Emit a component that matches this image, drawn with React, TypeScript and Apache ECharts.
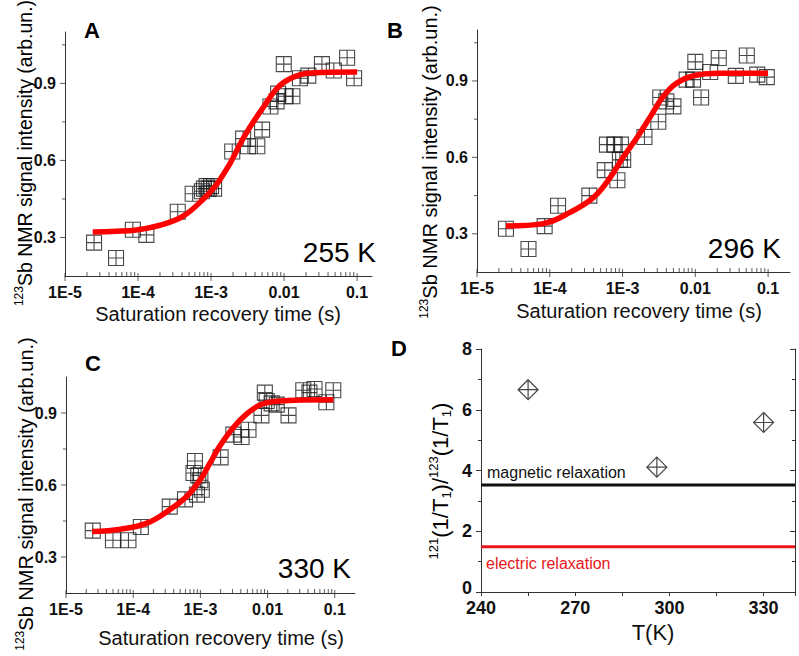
import React, { useEffect, useRef } from 'react';
import * as echarts from 'echarts';

const FONT = '"Liberation Sans", Arial, Helvetica, sans-serif';

// ---- Panel A (255 K) ----
const timeA = [2.5e-5, 5.0e-5, 8.5e-5, 1.3e-4, 3.5e-4, 5.6e-4, 7.5e-4, 8.0e-4, 8.7e-4, 9.3e-4, 1.0e-3, 1.1e-3, 1.95e-3, 2.75e-3, 3.2e-3, 4.3e-3, 5.0e-3, 6.5e-3, 7.9e-3, 8.3e-3, 9.9e-3, 1.05e-2, 1.3e-2, 1.65e-2, 2.15e-2, 3.3e-2, 4.8e-2, 7.3e-2, 9.1e-2];
const signalA = [0.28, 0.22, 0.33, 0.31, 0.40, 0.47, 0.48, 0.49, 0.50, 0.49, 0.50, 0.49, 0.635, 0.685, 0.655, 0.655, 0.72, 0.81, 0.83, 0.86, 0.975, 0.85, 0.85, 0.92, 0.93, 0.975, 0.95, 1.0, 0.92];
const fitTimeA = [2.4e-5, 5e-5, 9.5e-5, 2.2e-4, 4.2e-4, 7.8e-4, 1.2e-3, 1.8e-3, 2.5e-3, 3.4e-3, 5.2e-3, 7.9e-3, 1.2e-2, 2.3e-2, 0.1];
const fitSignalA = [0.321, 0.324, 0.329, 0.351, 0.384, 0.449, 0.508, 0.586, 0.664, 0.729, 0.807, 0.879, 0.918, 0.94, 0.944];

// ---- Panel B (296 K) ----
const timeB = [2.5e-5, 5.1e-5, 8.5e-5, 1.3e-4, 3.5e-4, 5.7e-4, 6.1e-4, 7.8e-4, 9.5e-4, 8.5e-4, 9.2e-4, 1.02e-3, 2.0e-3, 3.1e-3, 3.3e-3, 4.0e-3, 5.0e-3, 7.6e-3, 9.3e-3, 1.0e-2, 1.2e-2, 1.6e-2, 2.1e-2, 3.6e-2, 5.1e-2, 7.1e-2, 9.6e-2];
const signalB = [0.32, 0.24, 0.33, 0.41, 0.45, 0.55, 0.65, 0.65, 0.65, 0.51, 0.59, 0.59, 0.68, 0.74, 0.835, 0.82, 0.80, 0.905, 0.905, 0.975, 0.835, 0.935, 0.99, 0.92, 1.0, 0.925, 0.915];
const fitTimeB = [2.5e-5, 8.1e-5, 1.9e-4, 4.0e-4, 6.8e-4, 1.02e-3, 1.6e-3, 2.4e-3, 3.6e-3, 5.5e-3, 9.3e-3, 2.2e-2, 0.1];
const fitSignalB = [0.331, 0.34, 0.384, 0.443, 0.522, 0.601, 0.68, 0.759, 0.838, 0.891, 0.92, 0.93, 0.93];

// ---- Panel C (330 K) ----
const timeC = [2.5e-5, 5.0e-5, 8.5e-5, 1.3e-4, 3.5e-4, 5.9e-4, 7.9e-4, 8.3e-4, 9.3e-4, 8.9e-4, 1.05e-3, 1.0e-3, 2.0e-3, 3.1e-3, 4.1e-3, 5.2e-3, 8.1e-3, 9.1e-3, 9.7e-3, 1.15e-2, 1.37e-2, 2.05e-2, 3.4e-2, 4.2e-2, 5.0e-2, 7.5e-2, 9.5e-2];
const signalC = [0.41, 0.37, 0.37, 0.425, 0.51, 0.54, 0.65, 0.70, 0.64, 0.56, 0.58, 0.62, 0.715, 0.81, 0.80, 0.83, 0.89, 0.985, 0.95, 0.94, 0.935, 0.89, 0.995, 0.985, 1.0, 0.945, 0.995];
const fitTimeC = [2.45e-5, 6.5e-5, 1.6e-4, 3.5e-4, 6.3e-4, 1.0e-3, 1.4e-3, 1.95e-3, 3.1e-3, 4.9e-3, 7.8e-3, 1.35e-2, 0.095];
const fitSignalC = [0.406, 0.416, 0.441, 0.497, 0.553, 0.623, 0.693, 0.763, 0.84, 0.896, 0.934, 0.949, 0.955];

// ---- Panel D ----
const temperatureD = [255, 296, 330];
const ratioD = [6.66, 4.11, 5.58];
const magneticLevel = 3.52;
const electricLevel = 1.49;
const tRange = [240, 340];

// ---- Axis ticks / labels ----
const xTickValues = [1e-5, 1e-4, 1e-3, 0.01, 0.1];
const xTickLabels = ['1E-5', '1E-4', '1E-3', '0.01', '0.1'];
const minorMultipliers = [2, 3, 4, 5, 6, 7, 8, 9];
const yTickValues = [0.3, 0.6, 0.9];
const yTickLabels = ['0.3', '0.6', '0.9'];
const yMinorValues = [0.45, 0.75, 1.05];
const tempLabels = ['255 K', '296 K', '330 K'];
const panelLetters = ['A', 'B', 'C', 'D'];

const squareSymbol = 'path://M0,0H10V10H0ZM5,0V10M0,5H10';
const diamondSymbol = 'path://M10,0L20,10L10,20L0,10ZM10,0V20M0,10H20';

const AXIS_COLOR = '#333';
const TEXT_COLOR = '#111';

function zip(a: number[], b: number[]) {
  return a.map((v, i) => [v, b[i]]);
}

function buildOption() {
  const curvePanels = [
    { grid: { left: 65, top: 32, width: 307, height: 244 }, xMax: 0.16, yMax: 1.1, t: timeA, s: signalA, ft: fitTimeA, fs: fitSignalA },
    { grid: { left: 477, top: 30, width: 313, height: 242 }, xMax: 0.2, yMax: 1.1, t: timeB, s: signalB, ft: fitTimeB, fs: fitSignalB },
    { grid: { left: 66, top: 377, width: 289, height: 216 }, xMax: 0.2, yMax: 1.05, t: timeC, s: signalC, ft: fitTimeC, fs: fitSignalC },
  ];
  const yMin = 0.15;
  const grids: any[] = [];
  const xAxes: any[] = [];
  const yAxes: any[] = [];
  const series: any[] = [];

  curvePanels.forEach((p, i) => {
    grids.push({ ...p.grid, containLabel: false });
    xAxes.push({
      type: 'log', logBase: 10, gridIndex: i, min: 1e-5, max: p.xMax,
      axisLine: { show: true, lineStyle: { color: AXIS_COLOR, width: 1 } },
      axisTick: { show: false }, splitLine: { show: false }, minorTick: { show: false },
      axisLabel: {
        margin: 8, color: TEXT_COLOR, fontFamily: FONT, fontWeight: 'bold', fontSize: 16,
        formatter: (v: number) => {
          const idx = xTickValues.findIndex((t) => Math.abs(Math.log10(v) - Math.log10(t)) < 1e-6);
          return idx >= 0 ? xTickLabels[idx] : '';
        },
      },
    });
    yAxes.push({
      type: 'value', gridIndex: i, min: yMin, max: p.yMax, interval: 0.15,
      axisLine: { show: true, lineStyle: { color: AXIS_COLOR, width: 1 } },
      axisTick: { show: false }, splitLine: { show: false },
      axisLabel: {
        margin: 9, color: TEXT_COLOR, fontFamily: FONT, fontWeight: 'bold', fontSize: 16,
        formatter: (v: number) => {
          const idx = yTickValues.findIndex((t) => Math.abs(t - v) < 1e-6);
          return idx >= 0 ? yTickLabels[idx] : '';
        },
      },
    });
    const minorX: number[] = [];
    xTickValues.forEach((d) => minorMultipliers.forEach((m) => { const v = d * m; if (v < p.xMax) minorX.push(v); }));
    const tickBase = { type: 'scatter', xAxisIndex: i, yAxisIndex: i, symbol: 'rect', clip: false, silent: true, itemStyle: { color: AXIS_COLOR }, z: 5 };
    series.push({ ...tickBase, data: xTickValues.map((v) => [v, yMin]), symbolSize: [1, 8], symbolOffset: [0, 1] });
    series.push({ ...tickBase, data: minorX.map((v) => [v, yMin]), symbolSize: [1, 4], symbolOffset: [0, -2] });
    series.push({ ...tickBase, data: yTickValues.map((v) => [1e-5, v]), symbolSize: [5, 1], symbolOffset: [-2.5, 0] });
    series.push({ ...tickBase, data: yMinorValues.filter((v) => v < p.yMax).map((v) => [1e-5, v]), symbolSize: [3, 1], symbolOffset: [-1.5, 0] });
    series.push({
      type: 'scatter', xAxisIndex: i, yAxisIndex: i, data: zip(p.t, p.s), symbol: squareSymbol, symbolSize: 15,
      itemStyle: { color: 'rgba(0,0,0,0)', borderColor: '#1a1a1a', borderWidth: 1.1 }, z: 2, silent: true,
    });
    series.push({
      type: 'line', xAxisIndex: i, yAxisIndex: i, data: zip(p.ft, p.fs), smooth: 0.4, showSymbol: false, symbol: 'none',
      lineStyle: { color: '#ff0000', width: 5.5 }, z: 4, silent: true,
    });
  });

  // Panel D
  grids.push({ left: 481, top: 349, width: 314, height: 243 });
  const dLabel = { color: TEXT_COLOR, fontFamily: FONT, fontWeight: 'bold', fontSize: 18 };
  xAxes.push({
    type: 'value', gridIndex: 3, min: tRange[0], max: tRange[1], interval: 15,
    axisLine: { show: true, lineStyle: { color: AXIS_COLOR } }, axisTick: { show: true, length: 4, lineStyle: { color: AXIS_COLOR } },
    splitLine: { show: false },
    axisLabel: { ...dLabel, margin: 7, formatter: (v: number) => (v % 30 === 0 && v < tRange[1] ? String(v) : '') },
  });
  xAxes.push({
    type: 'value', gridIndex: 3, position: 'top', min: tRange[0], max: tRange[1], interval: 15,
    axisLine: { show: true, lineStyle: { color: AXIS_COLOR } }, axisTick: { show: true, inside: true, length: 4, lineStyle: { color: AXIS_COLOR } },
    splitLine: { show: false }, axisLabel: { show: false },
  });
  yAxes.push({
    type: 'value', gridIndex: 3, min: 0, max: 8, interval: 2,
    axisLine: { show: true, lineStyle: { color: AXIS_COLOR } }, axisTick: { show: true, length: 5, lineStyle: { color: AXIS_COLOR } },
    minorTick: { show: true, splitNumber: 2, length: 3, lineStyle: { color: AXIS_COLOR } },
    splitLine: { show: false },
    axisLabel: {
      ...dLabel, margin: 9,
      formatter: (v: number) => (v === 0 ? '{z|0}' : String(v)),
      rich: { z: { ...dLabel, padding: [0, 0, 9, 0] } },
    },
  });
  yAxes.push({
    type: 'value', gridIndex: 3, position: 'right', min: 0, max: 8, interval: 2,
    axisLine: { show: true, lineStyle: { color: AXIS_COLOR } }, axisTick: { show: true, inside: true, length: 5, lineStyle: { color: AXIS_COLOR } },
    minorTick: { show: true, splitNumber: 2, length: 3, lineStyle: { color: AXIS_COLOR } },
    splitLine: { show: false }, axisLabel: { show: false },
  });
  series.push({
    type: 'line', xAxisIndex: 3, yAxisIndex: 3, data: tRange.map((t) => [t, magneticLevel]), symbol: 'none',
    lineStyle: { color: '#111', width: 3 }, silent: true, z: 2,
  });
  series.push({
    type: 'line', xAxisIndex: 3, yAxisIndex: 3, data: tRange.map((t) => [t, electricLevel]), symbol: 'none',
    lineStyle: { color: '#e8161b', width: 3 }, silent: true, z: 2,
  });
  series.push({
    type: 'scatter', xAxisIndex: 3, yAxisIndex: 3, data: zip(temperatureD, ratioD), symbol: diamondSymbol, symbolSize: 20,
    itemStyle: { color: 'rgba(0,0,0,0)', borderColor: '#1a1a1a', borderWidth: 1.2 }, silent: true, z: 3,
  });

  const titleRich = (size: number) => ({
    m: { fontSize: size, fontFamily: FONT, color: TEXT_COLOR, lineHeight: size + 4 },
    sup: { fontSize: Math.round(size * 0.6), fontFamily: FONT, color: TEXT_COLOR, verticalAlign: 'top', lineHeight: size + 4 },
  });
  const yTitle = (x: number, y: number, size = 20) => ({
    type: 'text', x, y, rotation: Math.PI / 2, silent: true,
    style: { text: '{sup|123}{m|Sb NMR signal intensity (arb.un.)}', rich: titleRich(size), align: 'center', verticalAlign: 'middle' },
  });
  const xTitle = (x: number, y: number, text: string, size = 20) => ({
    type: 'text', x, y, silent: true,
    style: { text, fontSize: size, fontFamily: FONT, fill: TEXT_COLOR, align: 'center', verticalAlign: 'middle' },
  });
  const letter = (x: number, y: number, text: string) => ({
    type: 'text', x, y, silent: true,
    style: { text, fontSize: 22, fontWeight: 'bold', fontFamily: FONT, fill: '#000', align: 'center', verticalAlign: 'middle' },
  });
  const tempText = (x: number, y: number, text: string) => ({
    type: 'text', x, y, silent: true,
    style: { text, fontSize: 28, fontFamily: FONT, fill: '#000', align: 'right', verticalAlign: 'middle' },
  });

  const graphic: any[] = [
    letter(92, 30, panelLetters[0]), letter(395, 30, panelLetters[1]), letter(93, 363, panelLetters[2]), letter(399, 348, panelLetters[3]),
    tempText(376, 252, tempLabels[0]), tempText(781, 248, tempLabels[1]), tempText(351, 568, tempLabels[2]),
    yTitle(25, 153, 19.5), yTitle(430, 162), yTitle(26, 494),
    xTitle(218, 314, 'Saturation recovery time (s)'), xTitle(639, 311, 'Saturation recovery time (s)'), xTitle(221, 638, 'Saturation recovery time (s)'),
    xTitle(653, 632, 'T(K)', 22),
    {
      type: 'text', x: 440, y: 481, rotation: Math.PI / 2, silent: true,
      style: {
        text: '{sup|121}{m|(1/T}{sub|1}{m|)/}{sup|123}{m|(1/T}{sub|1}{m|)}',
        align: 'center', verticalAlign: 'middle',
        rich: {
          m: { fontSize: 22, fontFamily: FONT, color: TEXT_COLOR, lineHeight: 26 },
          sup: { fontSize: 13, fontFamily: FONT, color: TEXT_COLOR, verticalAlign: 'top', lineHeight: 26 },
          sub: { fontSize: 13, fontFamily: FONT, color: TEXT_COLOR, verticalAlign: 'bottom', lineHeight: 26 },
        },
      },
    },
    {
      type: 'text', x: 487, y: 472, silent: true,
      style: { text: 'magnetic relaxation', fontSize: 16, fontFamily: FONT, fill: '#111', align: 'left', verticalAlign: 'middle' },
    },
    {
      type: 'text', x: 486, y: 563, silent: true,
      style: { text: 'electric relaxation', fontSize: 16, fontFamily: FONT, fill: '#e8161b', align: 'left', verticalAlign: 'middle' },
    },
  ];

  return {
    animation: false,
    backgroundColor: '#ffffff',
    grid: grids,
    xAxis: xAxes,
    yAxis: yAxes,
    series,
    graphic,
  };
}

export default function App() {
  const ref = useRef<HTMLDivElement>(null);
  useEffect(() => {
    document.body.style.margin = '0';
    if (!ref.current) return;
    const chart = echarts.init(ref.current, undefined, { renderer: 'svg' });
    chart.setOption(buildOption() as any);
    return () => chart.dispose();
  }, []);
  return <div ref={ref} style={{ position: 'absolute', left: 0, top: 0, width: 799, height: 656 }} />;
}
